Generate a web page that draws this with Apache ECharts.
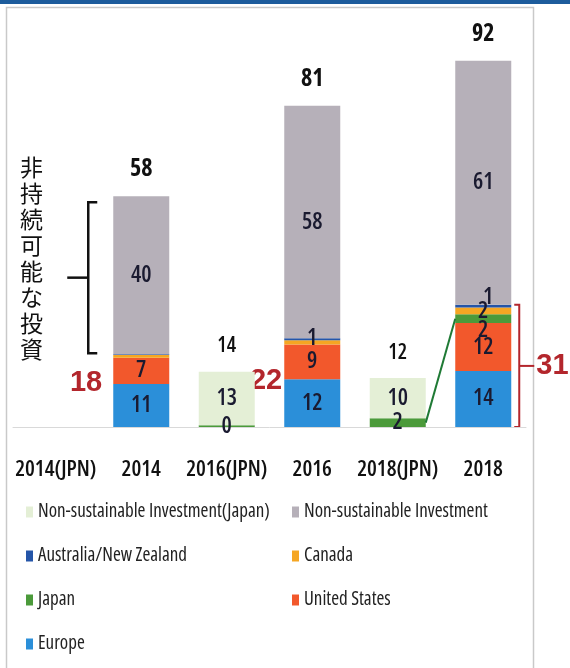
<!DOCTYPE html>
<html>
<head>
<meta charset="utf-8">
<script src="https://cdn.jsdelivr.net/npm/echarts@6/dist/echarts.min.js"></script>
<style>
  html, body { margin: 0; padding: 0; background: #fff; }
  #chart { width: 570px; height: 668px; }
</style>
</head>
<body>
<div id="chart"></div>
<script>
// Sustainable vs. non-sustainable investment (trillion USD) by region, 2014-2018
const categories = ['2014(JPN)', '2014', '2016(JPN)', '2016', '2018(JPN)', '2018'];
const europe        = [null, 10.8, null, 12.0, null, 14.1];
const unitedStates  = [null, 6.6,  null, 8.7,  null, 12.0];
const japan         = [null, null, 0.47, null, 2.2,  2.2];
const canada        = [null, 0.7,  null, 1.1,  null, 1.7];
const ausNz         = [null, 0.2,  null, 0.5,  null, 0.7];
const nonSustainable      = [null, 39.7, null, 58.4, null, 61.3];
const nonSustainableJapan = [null, null, 13.4, null, 10.1, null];

// condensed face of Open Sans, selected through the canvas font shorthand
const FAMILY = "'Open Sans', sans-serif";
const COND = 'condensed';
const RED = '#b3262c';

const seriesDefs = [
  { name: 'Europe', data: europe, color: '#2b8fd9' },
  { name: 'United States', data: unitedStates, color: '#f2582c' },
  { name: 'Japan', data: japan, color: '#4b9a3a' },
  { name: 'Canada', data: canada, color: '#f5a623' },
  { name: 'Australia/New Zealand', data: ausNz, color: '#2455a8' },
  { name: 'Non-sustainable Investment', data: nonSustainable, color: '#b6b0b9' },
  { name: 'Non-sustainable Investment(Japan)', data: nonSustainableJapan, color: '#e4efd6' }
];

// per-point label tweaks for the thin bands
const labelTweaks = {
  'Canada|1': { show: false },
  'Australia/New Zealand|1': { show: false },
  'Australia/New Zealand|3': { show: false },
  'Canada|3': { offset: [0, -4] },
  'Australia/New Zealand|5': { offset: [5, -9] },
  'Japan|5': { offset: [0, 12] }
};

const sum = (i) => seriesDefs.reduce((s, d) => s + (d.data[i] || 0), 0);
const totals = categories.map((c, i) => { const t = sum(i); return t > 0 ? t : null; });
const sustainable = categories.map((c, i) =>
  (europe[i] || 0) + (unitedStates[i] || 0) + (canada[i] || 0) + (ausNz[i] || 0) +
  (categories[i].indexOf('JPN') < 0 ? (japan[i] || 0) : 0));

const barSeries = seriesDefs.map(d => ({
  name: d.name,
  type: 'bar',
  stack: 'all',
  barWidth: 56,
  itemStyle: { color: d.color },
  label: {
    show: true,
    position: 'inside',
    fontFamily: FAMILY,
    fontStyle: COND,
    fontWeight: 600,
    fontSize: 23,
    color: '#1a1a30',
    formatter: p => String(Math.round(p.value))
  },
  data: d.data.map((v, i) => {
    if (v == null) return '-';
    const tw = labelTweaks[d.name + '|' + i];
    return tw ? { value: v, label: tw } : v;
  })
}));

const totalSeries = {
  name: 'total',
  type: 'scatter',
  symbolSize: 0,
  z: 5,
  itemStyle: { opacity: 1 },
  data: totals.map((t, i) => {
    if (t == null) return '-';
    const jpn = categories[i].indexOf('JPN') >= 0;
    return {
      value: t,
      label: jpn
        ? { fontSize: 21, fontWeight: 600, distance: 15 }
        : { fontSize: 24, fontWeight: 'bold', distance: 15 }
    };
  }),
  label: {
    show: true,
    position: 'top',
    fontFamily: FAMILY,
    fontStyle: COND,
    color: '#111',
    opacity: 1,
    formatter: p => String(Math.round(p.value))
  }
};

const legendCommon = {
  orient: 'vertical',
  icon: 'rect',
  itemWidth: 7,
  itemHeight: 11,
  itemGap: 24,
  padding: 0,
  selectedMode: false,
  textStyle: { fontFamily: FAMILY, fontStyle: COND, fontSize: 19, color: '#222', lineHeight: 20 }
};

const chart = echarts.init(document.getElementById('chart'), null, { renderer: 'canvas' });
chart.setOption({
  animation: false,
  backgroundColor: '#fff',
  grid: { left: 13, right: 44, top: 29, bottom: 241 },
  legend: [
    Object.assign({ left: 26, top: 502,
      data: ['Non-sustainable Investment(Japan)', 'Australia/New Zealand', 'Japan', 'Europe'] }, legendCommon),
    Object.assign({ left: 292, top: 502,
      data: ['Non-sustainable Investment', 'Canada', 'United States'] }, legendCommon)
  ],
  xAxis: {
    type: 'category',
    data: categories,
    axisTick: { show: false },
    axisLine: { lineStyle: { color: '#d9d9d9', width: 1 } },
    axisLabel: { fontFamily: FAMILY, fontStyle: COND, fontWeight: 600, fontSize: 22, color: '#111', margin: 32, interval: 0 }
  },
  yAxis: { type: 'value', min: 0, max: 100, show: false, splitLine: { show: false } },
  series: barSeries.concat([totalSeries])
});

// annotations placed through the chart's own coordinate system
const px = (ci, v) => chart.convertToPixel({ xAxisIndex: 0, yAxisIndex: 0 }, [ci, v]);
const half = 28;
const base = px(1, 0)[1];

const i14 = 1, i16 = 3, i18j = 4, i18 = 5;
const nsTop14 = px(i14, totals[i14]);
const nsBot14 = px(i14, sustainable[i14]);
const bx = nsTop14[0] - half - 25;
const bTop = nsTop14[1] + 6, bBot = nsBot14[1] - 1, bMid = (bTop + bBot) / 2;

const sus18 = px(i18, sustainable[i18]);
const rx = sus18[0] + half + 8;
const rMid = (sus18[1] + base) / 2;

const jpnStart = px(i18j, japan[i18j] / 2);
const jpnEnd = px(i18, europe[i18] + unitedStates[i18] + japan[i18] / 2);

const black = { stroke: '#111', lineWidth: 2.5 };
const red = { stroke: RED, lineWidth: 2 };
const redText = (text, x, y, align) => ({ type: 'text', x, y, style: {
  text, fontFamily: "'Liberation Sans', Arial, sans-serif", fontSize: 29, fontWeight: 'bold',
  fill: RED, align, verticalAlign: 'middle' } });

chart.setOption({
  graphic: [
    // page frame and header rule
    { type: 'rect', shape: { x: 0, y: 0, width: 570, height: 4 }, style: { fill: '#1d5c9c' }, silent: true },
    { type: 'rect', shape: { x: 6.5, y: 7.5, width: 527, height: 670 }, style: { fill: 'none', stroke: '#c9c9c9', lineWidth: 1.5 }, silent: true },
    // vertical caption with bracket
    { type: 'text', left: 20, top: 154, style: {
        text: '非\n持\n続\n可\n能\nな\n投\n資', fontFamily: "'Noto Sans CJK JP', sans-serif",
        fontSize: 23, lineHeight: 26, fill: '#111', align: 'left' } },
    { type: 'polyline', shape: { points: [[bx + 9, bTop], [bx, bTop], [bx, bBot], [bx + 9, bBot]] }, style: Object.assign({ fill: 'none' }, black) },
    { type: 'line', shape: { x1: bx - 21, y1: bMid, x2: bx, y2: bMid }, style: black },
    // sustainable subtotal labels
    redText(String(Math.round(sustainable[i14])), px(i14, 0)[0] - half - 11, base - 44, 'right'),
    redText(String(Math.round(sustainable[i16])), px(i16, 0)[0] - half - 2, base - 46, 'right'),
    // red bracket around the 2018 sustainable stack
    { type: 'polyline', shape: { points: [[rx - 5, sus18[1]], [rx, sus18[1]], [rx, base], [rx - 5, base]] }, style: Object.assign({ fill: 'none' }, red) },
    { type: 'line', shape: { x1: rx, y1: rMid, x2: rx + 15, y2: rMid }, style: red },
    redText(String(Math.round(sustainable[i18])), rx + 17, rMid, 'left'),
    // link between the two Japan segments of 2018
    { type: 'line', z: 10, shape: { x1: jpnStart[0] + half, y1: jpnStart[1], x2: jpnEnd[0] - half, y2: jpnEnd[1] },
      style: { stroke: '#1f7a35', lineWidth: 2 } }
  ]
});
</script>
</body>
</html>
